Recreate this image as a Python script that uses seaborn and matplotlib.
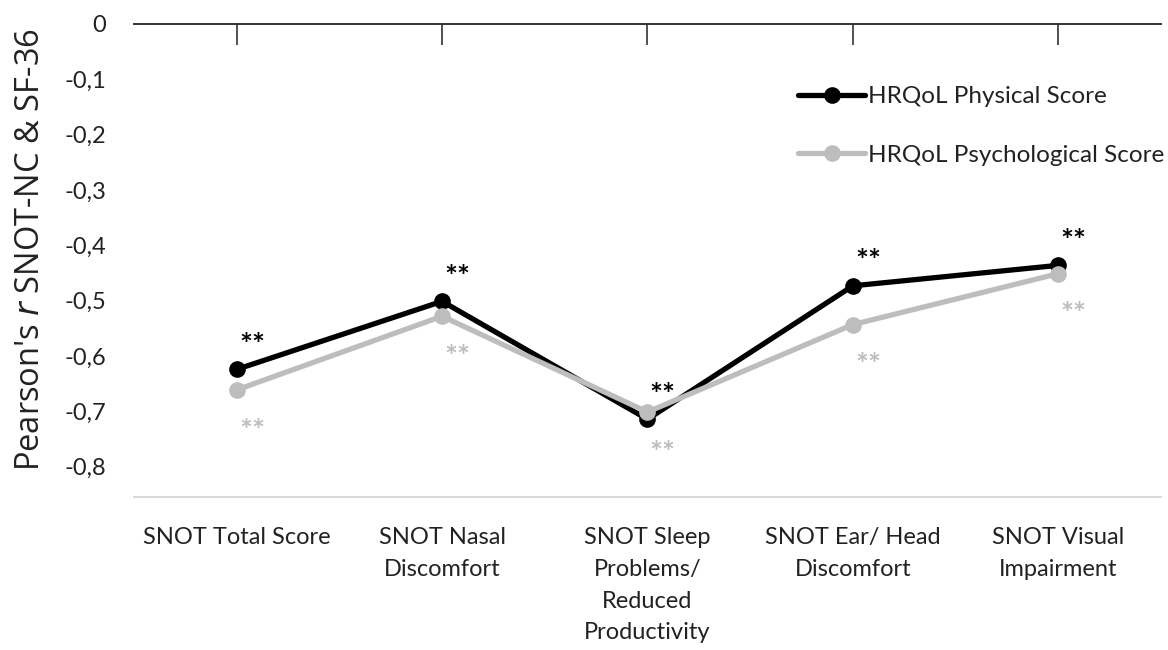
import numpy as np
import pandas as pd
import matplotlib
matplotlib.use("Agg")
import matplotlib.pyplot as plt
import seaborn as sns

# data
categories = [
    "SNOT Total Score",
    "SNOT Nasal Discomfort",
    "SNOT Sleep Problems/ Reduced Productivity",
    "SNOT Ear/ Head Discomfort",
    "SNOT Visual Impairment",
]
tick_labels = [
    "SNOT Total Score",
    "SNOT Nasal\nDiscomfort",
    "SNOT Sleep\nProblems/\nReduced\nProductivity",
    "SNOT Ear/ Head\nDiscomfort",
    "SNOT Visual\nImpairment",
]
physical      = [-0.624, -0.501, -0.714, -0.473, -0.436]
psychological = [-0.661, -0.528, -0.701, -0.543, -0.451]
series_names  = ["HRQoL Physical Score", "HRQoL Psychological Score"]
significance  = ["**", "**", "**", "**", "**"]
y_ticks       = [0, -0.1, -0.2, -0.3, -0.4, -0.5, -0.6, -0.7, -0.8]

BLACK = "#000000"
GRAY  = "#BDBDBD"
TEXT  = "#222222"

df = pd.DataFrame({
    "category": categories * 2,
    "r":        physical + psychological,
    "series":   [series_names[0]] * 5 + [series_names[1]] * 5,
})
df["pos"] = list(range(len(categories))) * 2

sns.set_theme(style="white")
plt.rcParams["font.family"] = ["Lato", "DejaVu Sans"]

fig = plt.figure(figsize=(11.68, 6.5), dpi=100)
ax = fig.add_axes([0.1147, 0.2358, 0.8793, 0.7273])

sns.lineplot(
    data=df, x="pos", y="r", hue="series",
    palette={series_names[0]: BLACK, series_names[1]: GRAY},
    marker="o", markersize=12, markeredgewidth=0,
    linewidth=3.8, sort=False, ax=ax,
)

# significance stars: physical above, psychological below
for i, (p, q) in enumerate(zip(physical, psychological)):
    ax.annotate(significance[i], (i, p), xytext=(11, 17), textcoords="offset points",
                ha="center", va="center", fontsize=22, color=BLACK, fontweight="bold")
    ax.annotate(significance[i], (i, q), xytext=(11, -30), textcoords="offset points",
                ha="center", va="center", fontsize=22, color=GRAY, fontweight="bold")

ax.set_xlim(-0.5, len(categories) - 0.5)
ax.set_ylim(-0.854, 0)
ax.set_xticks(range(len(categories)))
ax.set_xticklabels(tick_labels, fontsize=17, linespacing=1.63, color=TEXT)
ax.set_yticks(y_ticks)
ax.set_yticklabels([f"{v:.1f}".replace(".", ",") if v != 0 else "0" for v in y_ticks],
                   fontsize=17, color=TEXT)

ax.tick_params(axis="x", bottom=False, top=True, direction="in", length=15,
               width=1.2, color="#333333", labelbottom=True, labeltop=False, pad=22)
ax.tick_params(axis="y", left=False, pad=14)

for side in ["left", "right"]:
    ax.spines[side].set_visible(False)
ax.spines["top"].set_color("#333333")
ax.spines["top"].set_linewidth(1.4)
ax.spines["bottom"].set_color("#D9D9D9")
ax.spines["bottom"].set_linewidth(1.4)

ax.set_xlabel("")
ax.set_ylabel("Pearson's $\\it{r}$ SNOT-NC & SF-36", fontsize=23.5,
              family=["Open Sans", "DejaVu Sans"], color=TEXT)
ax.yaxis.set_label_coords(-0.085, 0.522)

leg = ax.legend(loc="upper left", bbox_to_anchor=(0.635, 0.894), frameon=False,
                fontsize=17.5, handlelength=2.75, handletextpad=0.1, labelspacing=1.55,
                borderpad=0)
for h in leg.legend_handles:
    h.set_linewidth(3.8)
    h.set_markersize(12)
for t in leg.get_texts():
    t.set_color(TEXT)

fig.savefig("out.png", dpi=100, facecolor="white")
